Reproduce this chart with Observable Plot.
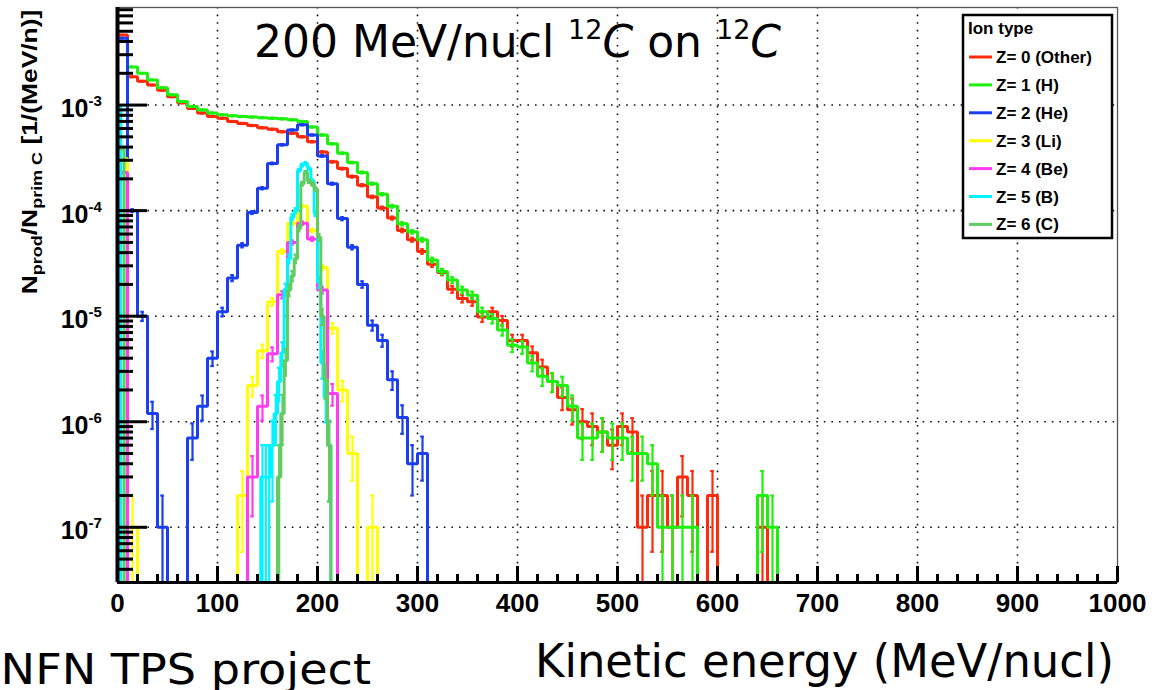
<!DOCTYPE html>
<html>
<head>
<meta charset="utf-8">
<script src="https://cdn.jsdelivr.net/npm/d3@7"></script>
<script src="https://cdn.jsdelivr.net/npm/@observablehq/plot@0.6"></script>
<style>
  html, body { margin: 0; padding: 0; background: #fff; overflow: hidden; }
  #chart { width: 1166px; height: 690px; }
</style>
</head>
<body>
<div id="chart"></div>
<script>
// Fragment spectra for 200 MeV/nucl 12C on 12C, per primary carbon and per MeV/nucl.
// Coarse spectra use 10 MeV/nucl bins starting at 0.
const binWidth = 10;
const primaries = 1e6;   // number of simulated primaries (sets the counting errors)

const ionLabels = ["Z= 0 (Other)", "Z= 1 (H)", "Z= 2 (He)", "Z= 3 (Li)", "Z= 4 (Be)", "Z= 5 (B)", "Z= 6 (C)"];
const ionColors = ["#ff2a0a", "#1cf00c", "#1a3ef0", "#ffff00", "#ff3cf0", "#00f4ff", "#62cc62"];

const zOther = [
  4.6e-3, 1.85e-3, 1.68e-3, 1.55e-3, 1.38e-3, 1.2e-3, 1.05e-3, 9.3e-4, 8.4e-4, 7.8e-4,
  7.5e-4, 7.0e-4, 6.7e-4, 6.4e-4, 6.1e-4, 5.9e-4, 5.6e-4, 5.4e-4, 5.0e-4, 4.5e-4,
  3.6e-4, 2.9e-4, 2.5e-4, 2.1e-4, 1.74e-4, 1.35e-4, 1.06e-4, 8.5e-5, 6.5e-5, 5.3e-5,
  4.1e-5, 3.1e-5, 2.6e-5, 1.8e-5, 1.47e-5, 1.37e-5, 9.8e-6, 1.1e-5, 9.1e-6, 5.9e-6,
  5.9e-6, 4.5e-6, 3.3e-6, 2.4e-6, 1.7e-6, 1.3e-6, 1.0e-6, 9e-7, 8e-7, 6e-7,
  9e-7, 8e-7, 1e-7, 2e-7, 2e-7, 1e-7, 3e-7, 2e-7, 0, 2e-7,
  0, 0, 0, 0, 1e-7
];
const zH = [
  4.0e-3, 2.3e-3, 2.0e-3, 1.73e-3, 1.46e-3, 1.25e-3, 1.08e-3, 9.7e-4, 9.0e-4, 8.4e-4,
  8.1e-4, 7.9e-4, 7.8e-4, 7.7e-4, 7.6e-4, 7.5e-4, 7.4e-4, 7.25e-4, 7.0e-4, 6.2e-4,
  5.2e-4, 4.3e-4, 3.5e-4, 2.85e-4, 2.3e-4, 1.8e-4, 1.43e-4, 1.1e-4, 7.5e-5, 6.3e-5,
  5.3e-5, 3.4e-5, 2.65e-5, 2.2e-5, 1.77e-5, 1.58e-5, 1.1e-5, 9.5e-6, 7.4e-6, 5.3e-6,
  5.1e-6, 3.6e-6, 2.7e-6, 2.4e-6, 2.2e-6, 1.4e-6, 7e-7, 7e-7, 8e-7, 7e-7,
  7e-7, 5e-7, 5e-7, 4e-7, 1e-7, 1e-7, 1e-7, 1e-7, 0, 0,
  0, 0, 0, 0, 2e-7, 1e-7
];
const zHe = [
  4.3e-3, 1e-4, 1e-5, 1.2e-6, 1e-7, 0, 0, 7e-7, 1.4e-6, 4e-6,
  1.1e-5, 2.3e-5, 4.7e-5, 9.6e-5, 1.63e-4, 2.8e-4, 4.2e-4, 5.8e-4, 6.5e-4, 5.2e-4,
  3.3e-4, 1.8e-4, 8.4e-5, 4.5e-5, 2.0e-5, 8.2e-6, 5.9e-6, 2.5e-6, 1.1e-6, 4e-7,
  5e-7
];
const zLi = [
  3.1e-4, 1e-7, 0, 0, 0, 0, 0, 0, 0, 0,
  0, 0, 2e-7, 2.2e-6, 4.7e-6, 1.37e-5, 4.1e-5, 7.6e-5, 1.1e-4, 6.5e-5,
  2.9e-5, 7.7e-6, 2e-6, 5e-7, 0, 1e-7
];
const zBe = [
  2.3e-4, 0, 0, 0, 0, 0, 0, 0, 0, 0,
  0, 0, 0, 3e-7, 1.4e-6, 4.4e-6, 1.6e-5, 5e-5, 7.6e-5, 5.4e-5,
  1.77e-5, 1.85e-6
];

// Boron and carbon use finer 10/3 MeV/nucl bins.
const fineWidth = 10 / 3;
const zBLow = [9.6e-4];
const zBPeakStart = 43;          // first peak bin index (143.3 MeV/nucl)
const zBPeak = [
  3e-7, 3e-7, 3e-7, 6e-7, 1.2e-6, 2.4e-6, 4.5e-6, 1.8e-5, 3.5e-5, 8.7e-5,
  1.0e-4, 2.4e-4, 2.7e-4, 2.8e-4, 2.5e-4, 1.9e-4, 9.4e-5, 2.1e-5, 3.6e-6, 1.7e-6,
  6e-7
];
const zCLow = [3.9e-4, 3.9e-4];
const zCPeakStart = 48;          // first peak bin index (160 MeV/nucl)
const zCPeak = [
  3e-7, 1.2e-6, 3.8e-6, 1.77e-5, 2.4e-5, 3.5e-5, 6.8e-5, 1.8e-4, 2.3e-4, 1.9e-4,
  1.8e-4, 1.6e-4, 5.6e-5, 1e-5, 2.5e-6, 6e-7
];

const xMajor = d3.range(0, 1001, 100);
const xMinor = d3.range(0, 1001, 20).filter(v => v % 100 !== 0);
const xGrid = d3.range(100, 1000, 100);
const yDecades = [1e-7, 1e-6, 1e-5, 1e-4, 1e-3];

// ---- layout ----
const W = 1166, H = 690;
const mL = 117, mR = 49, mT = 7, mB = 108;
const frameW = W - mL - mR, frameH = H - mT - mB;
const yMin = 3.0e-8, yMax = 8.4e-3;
const floor = 1e-12;    // empty bins fall below the frame and get clipped

const yMinor = [];
for (let e = -8; e <= -3; e++) {
  for (let m = 2; m <= 9; m++) {
    const v = m * Math.pow(10, e);
    if (v > yMin && v < yMax) yMinor.push(v);
  }
}

function fillFine(low, start, peak) {
  const out = new Array(start + peak.length).fill(0);
  low.forEach((v, i) => out[i] = v);
  peak.forEach((v, i) => out[start + i] = v);
  return out;
}
const zB = fillFine(zBLow, zBPeakStart, zBPeak);
const zC = fillFine(zCLow, zCPeakStart, zCPeak);

const spectra = [
  {values: zOther, width: binWidth},
  {values: zH, width: binWidth},
  {values: zHe, width: binWidth},
  {values: zLi, width: binWidth},
  {values: zBe, width: binWidth},
  {values: zB, width: fineWidth},
  {values: zC, width: fineWidth}
];

function stepPoints(values, w) {
  const pts = [{x: 0, y: floor}];
  values.forEach((v, i) => pts.push({x: i * w, y: v > 0 ? v : floor}));
  pts.push({x: values.length * w, y: floor});
  return pts;
}
function errorBars(values, w) {
  const unit = 1 / (primaries * w);     // value of a single count
  return values.map((v, i) => {
    if (!(v > 0)) return null;
    const s = Math.sqrt(v * unit);
    return {c: (i + 0.5) * w, lo: v - s, hi: v + s};
  }).filter(Boolean);
}

const histMarks = [];
spectra.forEach((s, k) => {
  const color = ionColors[k];
  const errs = errorBars(s.values, s.width);
  const caps = [];
  errs.forEach(e => {
    caps.push({y: e.hi, x1: e.c - 1.8, x2: e.c + 1.8});
    if (e.lo > 0) caps.push({y: e.lo, x1: e.c - 1.8, x2: e.c + 1.8});
  });
  histMarks.push(
    Plot.line(stepPoints(s.values, s.width), {x: "x", y: "y", curve: "step-after", stroke: color, strokeWidth: 3, strokeLinejoin: "miter", clip: true}),
    Plot.ruleX(errs, {x: "c", y1: d => Math.max(d.lo, floor), y2: "hi", stroke: color, strokeWidth: 2.2, clip: true}),
    Plot.ruleY(caps, {y: "y", x1: "x1", x2: "x2", stroke: color, strokeWidth: 2.2, clip: true})
  );
});

const svg = Plot.plot({
  width: W, height: H,
  marginLeft: mL, marginRight: mR, marginTop: mT, marginBottom: mB,
  style: {background: "#fff", fontFamily: "'Liberation Sans', Arial, Helvetica, sans-serif", color: "#000"},
  x: {domain: [0, 1000], axis: null},
  y: {type: "log", domain: [yMin, yMax], axis: null},
  marks: [
    // dotted grid
    Plot.ruleX(xGrid, {x: d => d, stroke: "#111", strokeWidth: 1.6, strokeDasharray: "1.6,6"}),
    Plot.ruleY(yDecades, {y: d => d, stroke: "#111", strokeWidth: 1.6, strokeDasharray: "1.6,6"}),
    Plot.frame({stroke: "#555", strokeWidth: 1.3}),
    ...histMarks,
    // ticks pointing into the frame
    Plot.tickX(xMajor, {x: d => d, insetTop: frameH - 16, stroke: "#000", strokeWidth: 3}),
    Plot.tickX(xMinor, {x: d => d, insetTop: frameH - 8, stroke: "#000", strokeWidth: 3}),
    Plot.tickY(yDecades, {y: d => d, insetRight: frameW - 30, stroke: "#000", strokeWidth: 3}),
    Plot.tickY(yMinor, {y: d => d, insetRight: frameW - 16, stroke: "#000", strokeWidth: 3}),
    // axis lines
    Plot.ruleX([0], {x: d => d, stroke: "#000", strokeWidth: 4}),
    Plot.ruleY([yMin], {y: d => d, stroke: "#000", strokeWidth: 3}),
    // tick labels
    Plot.text(xMajor, {x: d => d, text: d => String(d), frameAnchor: "bottom", lineAnchor: "top", dy: 11, fontSize: 26, fontWeight: "bold", fill: "#000"}),
    Plot.text(yDecades, {y: d => d, text: () => "10", frameAnchor: "left", textAnchor: "end", lineAnchor: "bottom", dx: -29, dy: 12, fontSize: 25, fontWeight: "bold", fill: "#000"}),
    Plot.text(yDecades, {y: d => d, text: d => String(Math.round(Math.log10(d))), frameAnchor: "left", textAnchor: "start", lineAnchor: "bottom", dx: -29, dy: 1, fontSize: 15, fontWeight: "bold", fill: "#000"})
  ]
});

const root = d3.select(svg);
const handFont = "'DejaVu Sans', 'Open Sans', sans-serif";

// y-axis title (stretched along its reading direction)
const yt = root.append("text")
  .attr("transform", "translate(37,152) rotate(-90) scale(1.2,1)")
  .attr("text-anchor", "middle")
  .attr("font-family", "'Liberation Sans', Arial, sans-serif")
  .attr("font-weight", "bold")
  .attr("font-size", 22)
  .attr("fill", "#000");
yt.append("tspan").text("N");
yt.append("tspan").attr("font-size", 15).attr("dy", 5).text("prod");
yt.append("tspan").attr("dy", -5).text("/N");
yt.append("tspan").attr("font-size", 15).attr("dy", 5).text("prim C");
yt.append("tspan").attr("dy", -5).text(" [1/(MeV/n)]");

// title inside the frame
const tt = root.append("text")
  .attr("x", 254).attr("y", 57)
  .attr("text-anchor", "start")
  .attr("font-family", handFont)
  .attr("font-size", 44)
  .attr("fill", "#000");
tt.append("tspan").text("200 MeV/nucl ");
tt.append("tspan").attr("font-size", 27).attr("dy", -18).text("12");
tt.append("tspan").attr("dy", 18).attr("font-style", "italic").text("C");
tt.append("tspan").text(" on ");
tt.append("tspan").attr("font-size", 27).attr("dy", -18).text("12");
tt.append("tspan").attr("dy", 18).attr("font-style", "italic").text("C");

// x-axis title and project tag
root.append("text")
  .attr("x", 535).attr("y", 677)
  .attr("text-anchor", "start")
  .attr("font-family", handFont).attr("font-size", 46)
  .attr("textLength", 579).attr("lengthAdjust", "spacingAndGlyphs")
  .attr("fill", "#000")
  .text("Kinetic energy (MeV/nucl)");
root.append("text")
  .attr("x", -13).attr("y", 684)
  .attr("text-anchor", "start")
  .attr("font-family", handFont).attr("font-size", 42)
  .attr("textLength", 384).attr("lengthAdjust", "spacingAndGlyphs")
  .attr("fill", "#000")
  .text("INFN TPS project");

// legend
const lg = root.append("g")
  .attr("text-anchor", "start")
  .attr("font-family", "'Liberation Sans', Arial, sans-serif")
  .attr("font-weight", "bold");
lg.append("rect").attr("x", 963).attr("y", 15).attr("width", 149).attr("height", 223)
  .attr("fill", "#fff").attr("stroke", "#000").attr("stroke-width", 2.5);
lg.append("text").attr("x", 968).attr("y", 34).attr("font-size", 17).attr("fill", "#000").text("Ion type");
ionLabels.forEach((label, i) => {
  const cy = 57 + i * 27.9;
  lg.append("line").attr("x1", 969).attr("x2", 992).attr("y1", cy).attr("y2", cy)
    .attr("stroke", ionColors[i]).attr("stroke-width", 3);
  lg.append("text").attr("x", 996).attr("y", cy + 6).attr("font-size", 17).attr("fill", "#000").text(label);
});

document.getElementById("chart").appendChild(svg);
</script>
</body>
</html>
